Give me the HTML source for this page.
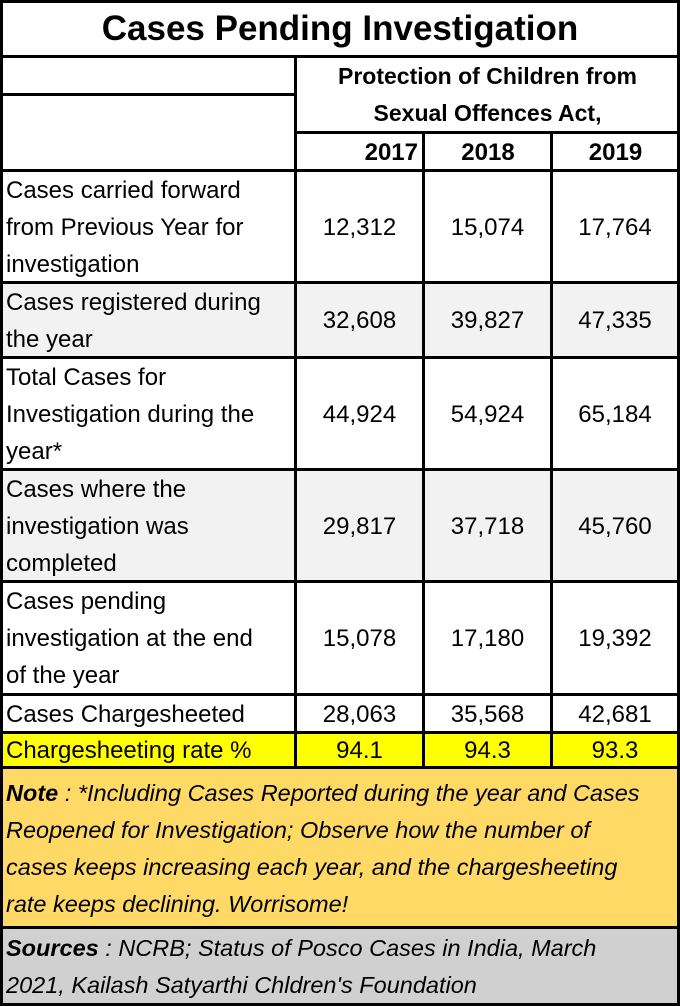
<!DOCTYPE html>
<html><head><meta charset="utf-8"><style>
body{margin:0;width:680px;height:1006px;background:#fff;position:relative;overflow:hidden;font-family:"Liberation Sans",Arial,sans-serif;color:#000}
.c{position:absolute;box-sizing:border-box;display:flex;align-items:center;font-size:24px;line-height:37px;white-space:nowrap}
.n{justify-content:center}
.l{padding-left:6px;padding-right:2px}
.h{position:absolute;height:3px;background:#000}
.v{position:absolute;width:3px;background:#000}
</style></head><body>
<div class="c n" style="left:0;top:0;width:680px;height:57px;font-weight:bold;font-size:35px">Cases Pending Investigation</div>
<div class="c n" style="left:296px;top:57px;width:383px;height:76px;font-weight:bold;font-size:23px;text-align:center">Protection of Children from<br>Sexual Offences Act,</div>
<div class="c n" style="left:296px;top:133px;width:128px;height:38px;font-weight:bold;justify-content:flex-end;padding-right:6px">2017</div>
<div class="c n" style="left:424px;top:133px;width:128px;height:38px;font-weight:bold">2018</div>
<div class="c n" style="left:552px;top:133px;width:127px;height:38px;font-weight:bold">2019</div>

<div style="position:absolute;left:0;top:283px;width:680px;height:74px;background:#f2f2f2"></div>
<div style="position:absolute;left:0;top:470px;width:680px;height:111px;background:#f2f2f2"></div>
<div style="position:absolute;left:0;top:733px;width:680px;height:35px;background:#ffff00"></div>
<div style="position:absolute;left:0;top:768px;width:680px;height:160px;background:#ffd966"></div>
<div style="position:absolute;left:0;top:928px;width:680px;height:78px;background:#d0d0d0"></div>

<div id="rows"></div>

<div class="c l" style="left:0;top:770px;width:680px;height:157px;font-style:italic;font-size:23.5px">
<div><b>Note</b> : *Including Cases Reported during the year and Cases<br>Reopened for Investigation; Observe how the number of<br>cases keeps increasing each year, and the chargesheeting<br>rate keeps declining. Worrisome!</div></div>
<div class="c l" style="left:0;top:929px;width:680px;height:75px;font-style:italic;font-size:23.5px">
<div><b>Sources</b> : NCRB; Status of Posco Cases in India, March<br>2021, Kailash Satyarthi Chldren's Foundation</div></div>

<div class="h" style="left:0;top:0;width:680px"></div>
<div class="h" style="left:0;top:55px;width:680px"></div>
<div class="h" style="left:0;top:93px;width:296px"></div>
<div class="h" style="left:295px;top:131px;width:385px"></div>
<div class="h" style="left:0;top:169px;width:680px"></div>
<div class="h" style="left:0;top:281px;width:680px"></div>
<div class="h" style="left:0;top:356px;width:680px"></div>
<div class="h" style="left:0;top:468px;width:680px"></div>
<div class="h" style="left:0;top:580px;width:680px"></div>
<div class="h" style="left:0;top:693px;width:680px"></div>
<div class="h" style="left:0;top:731px;width:680px"></div>
<div class="h" style="left:0;top:766px;width:680px"></div>
<div class="h" style="left:0;top:926px;width:680px"></div>
<div class="h" style="left:0;top:1003px;width:680px"></div>
<div class="v" style="left:0;top:0;height:1006px"></div>
<div class="v" style="left:677px;top:0;height:1006px"></div>
<div class="v" style="left:294px;top:55px;height:713px"></div>
<div class="v" style="left:422px;top:131px;height:637px"></div>
<div class="v" style="left:550px;top:131px;height:637px"></div>

<script>
const labels=["Cases carried forward<br>from Previous Year for<br>investigation","Cases registered during<br>the year","Total Cases for<br>Investigation during the<br>year*","Cases where the<br>investigation was<br>completed","Cases pending<br>investigation at the end<br>of the year","Cases Chargesheeted","Chargesheeting rate %"];
const v2017=["12,312","32,608","44,924","29,817","15,078","28,063","94.1"];
const v2018=["15,074","39,827","54,924","37,718","17,180","35,568","94.3"];
const v2019=["17,764","47,335","65,184","45,760","19,392","42,681","93.3"];
const tops=[171,283,358,470,582,695,733,768];
const cols=[[296,127],[424,127],[552,126]];
const root=document.getElementById('rows');
labels.forEach((lab,i)=>{
  const t=tops[i],h=tops[i+1]-t;
  const d=document.createElement('div');
  d.className='c l';
  
  
  d.style.cssText=`left:0;top:${t}px;width:295px;height:${h}px`;
  d.innerHTML=lab;root.appendChild(d);
  [v2017,v2018,v2019].forEach((arr,j)=>{
    const e=document.createElement('div');
    e.className='c n';
    
    
    e.style.cssText=`left:${cols[j][0]}px;top:${t}px;width:${cols[j][1]}px;height:${h}px`;
    e.textContent=arr[i];root.appendChild(e);
  });
});
</script>
</body></html>
